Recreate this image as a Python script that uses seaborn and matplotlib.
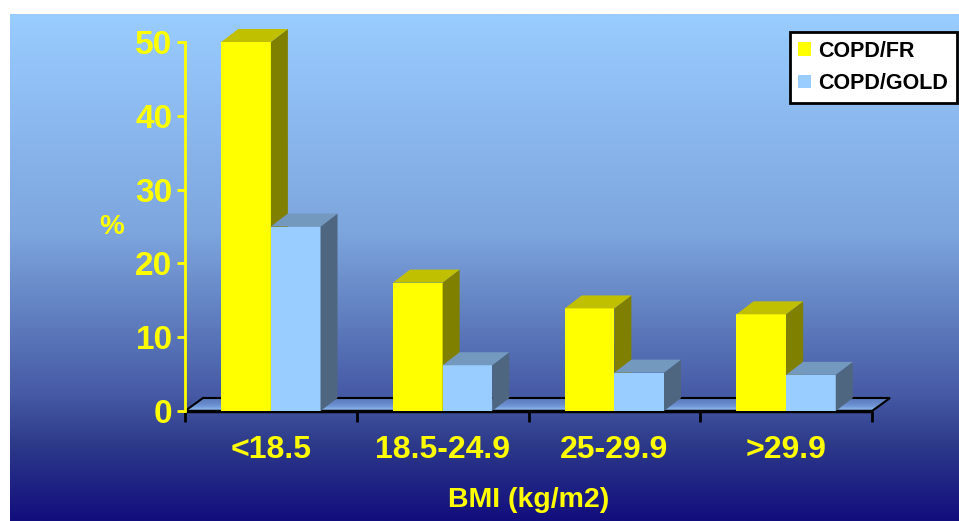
import matplotlib
matplotlib.use("Agg")
import matplotlib.pyplot as plt
from matplotlib.patches import Polygon, Patch
import seaborn as sns
import numpy as np
import pandas as pd

sns.set_style("white")
plt.rcParams['font.family'] = ['Liberation Sans', 'DejaVu Sans']

# data
categories = ['<18.5', '18.5-24.9', '25-29.9', '>29.9']
series = ['COPD/FR', 'COPD/GOLD']
copd_fr = [50, 17.4, 13.9, 13.1]
copd_gold = [25, 6.2, 5.2, 4.9]
y_ticks = [0, 10, 20, 30, 40, 50]

df = pd.DataFrame({
    'BMI': categories * 2,
    'val': copd_fr + copd_gold,
    'serie': [series[0]] * 4 + [series[1]] * 4,
})

front = {'COPD/FR': '#FFFF00', 'COPD/GOLD': '#99CCFF'}
side = {'COPD/FR': '#808000', 'COPD/GOLD': '#4F6680'}
top = {'COPD/FR': '#C0C000', 'COPD/GOLD': '#7399BF'}

W, H = 959, 521
fig = plt.figure(figsize=(W / 100, H / 100), dpi=100)

# gradient background
bg = fig.add_axes([10 / W, 0, (W - 10) / W, (H - 14) / H], zorder=-5)
stops = np.array([0.0, 0.43, 0.55, 0.75, 0.85, 1.0])
cols = np.array([[153, 204, 255], [125, 165, 222], [104, 138, 200],
                 [70, 90, 165], [45, 58, 138], [18, 14, 125]]) / 255
t = np.linspace(0, 1, 300)
grad = np.stack([np.interp(t, stops, cols[:, i]) for i in range(3)], axis=1)
bg.imshow(grad[:, None, :], aspect='auto', extent=[0, 1, 0, 1])
bg.axis('off')

# main axes
ax = fig.add_axes([185 / W, (H - 411) / H, 687 / W, 369 / H])
ax.set_facecolor('none')
sns.barplot(data=df, x='BMI', y='val', hue='serie', palette=front,
            width=0.578, saturation=1, linewidth=0, legend=False, ax=ax)
ax.set_xlim(-0.5, 3.5)
ax.set_ylim(0, 50)

dx = 17 / (687 / 4)
dy = 13 / (369 / 50)

# floor
fdx = 18 / (687 / 4)
n = 12
fcol_lo = np.array([153, 204, 255]) / 255
fcol_hi = np.array([85, 115, 185]) / 255
for i in range(n):
    a, b = i / n, (i + 1) / n
    c = fcol_lo + (fcol_hi - fcol_lo) * a
    ax.add_patch(Polygon([(-0.5 + fdx * a, dy * a), (-0.5 + fdx * b, dy * b),
                          (3.5 + fdx * b, dy * b), (3.5 + fdx * a, dy * a)],
                         closed=True, facecolor=c, edgecolor='none',
                         zorder=1, clip_on=False))
ax.add_patch(Polygon([(-0.5, 0), (-0.5 + fdx, dy), (3.5 + fdx, dy), (3.5, 0)],
                     closed=True, fill=False, edgecolor='black', lw=1.5,
                     zorder=1.2, clip_on=False))
ax.plot([-0.5, 3.5], [0, 0], color='black', lw=2.5, zorder=1.3, clip_on=False,
        solid_capstyle='butt')

# 3D faces
for k, (name, cont) in enumerate(zip(series, ax.containers)):
    for bar in cont:
        x0 = bar.get_x()
        x1 = x0 + bar.get_width()
        h = bar.get_height()
        bar.set_zorder(2 + 2 * k)
        ax.add_patch(Polygon([(x1, 0), (x1 + dx, dy), (x1 + dx, h + dy), (x1, h)],
                             closed=True, facecolor=side[name], edgecolor='none',
                             zorder=2.5 + 2 * k, clip_on=False))
        ax.add_patch(Polygon([(x0, h), (x0 + dx, h + dy), (x1 + dx, h + dy), (x1, h)],
                             closed=True, facecolor=top[name], edgecolor='none',
                             zorder=2.5 + 2 * k, clip_on=False))

# axes styling
for s in ['top', 'right', 'bottom']:
    ax.spines[s].set_visible(False)
ax.spines['left'].set_color('#FFFF00')
ax.spines['left'].set_linewidth(2)
ax.set_yticks(y_ticks)
ax.tick_params(axis='y', colors='#FFFF00', length=6, width=2, pad=3,
               labelsize=24, left=True)
for lab in ax.get_yticklabels():
    lab.set_fontweight('bold')
ax.set_xticks(range(4))
ax.set_xticklabels(categories, fontsize=23, fontweight='bold', color='#FFFF00')
ax.tick_params(axis='x', length=0, pad=17)
ax.set_xticks([-0.5, 0.5, 1.5, 2.5, 3.5], minor=True)
ax.tick_params(axis='x', which='minor', length=8, width=2, color='black',
               direction='out', bottom=True)
ax.set_xlabel('BMI (kg/m2)', fontsize=20.5, fontweight='bold', color='#FFFF00',
              labelpad=16)
ax.set_ylabel('')
ax.grid(False)
fig.text(112 / W, 1 - 227 / H, '%', fontsize=20, fontweight='bold',
         color='#FFFF00', ha='center', va='center')

# legend
handles = [Patch(facecolor=front[s], edgecolor='none') for s in series]
leg = fig.legend(handles, series, loc='upper right',
                 bbox_to_anchor=(957 / W, 1 - 32 / H), frameon=True,
                 fancybox=False, framealpha=1, edgecolor='black',
                 prop={'weight': 'bold', 'size': 15.5}, labelcolor='black',
                 handlelength=0.56, handleheight=0.56, handletextpad=0.37,
                 labelspacing=0.55, borderpad=0.4, borderaxespad=0)
leg.get_frame().set_linewidth(2)

fig.savefig('out.png', dpi=100, facecolor='white')
